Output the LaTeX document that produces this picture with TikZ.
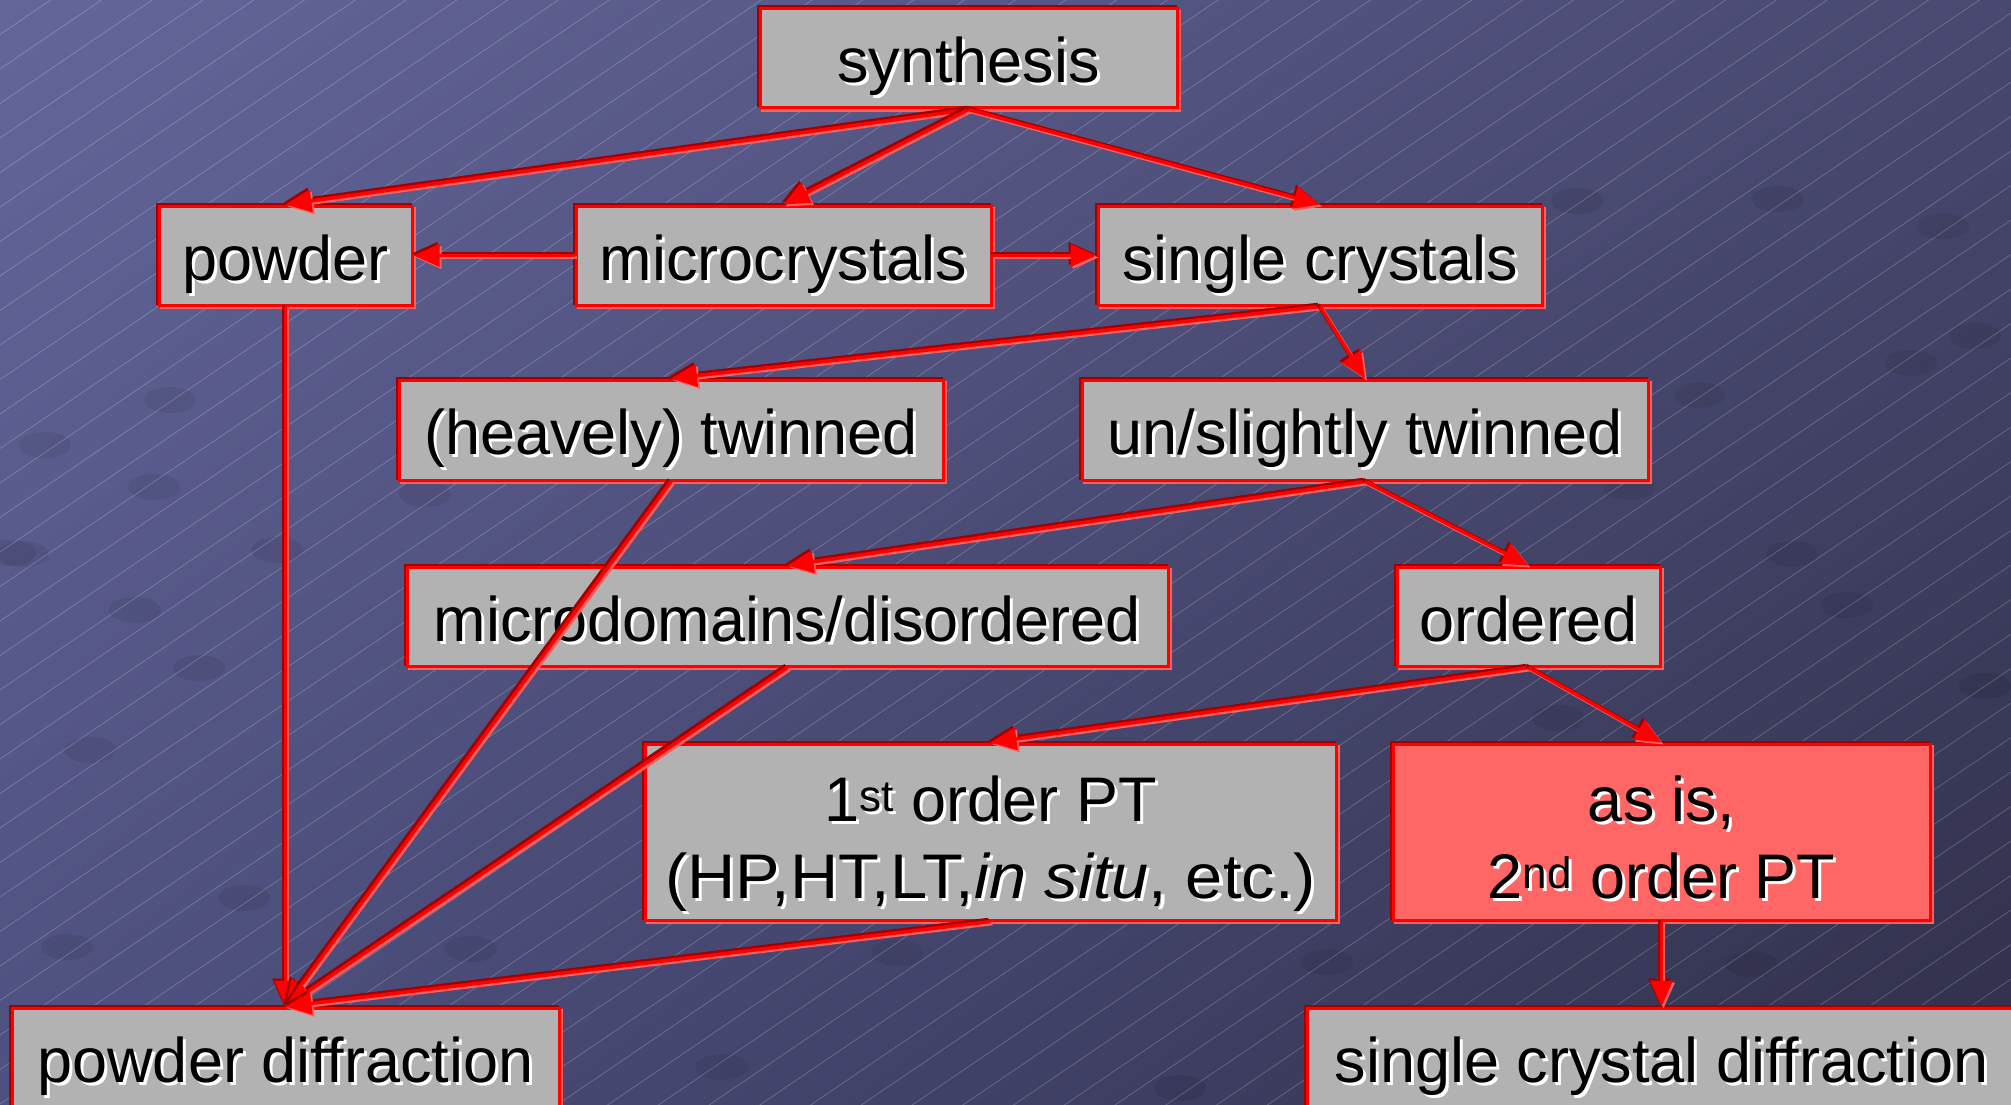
\documentclass[tikz,border=0pt]{standalone}
\usepackage{fontspec}
\usepackage{graphicx}
\setmainfont{Liberation Sans}
\usetikzlibrary{arrows.meta,shadings}
\definecolor{boxgray}{HTML}{B2B2B2}
\definecolor{boxred}{HTML}{FF0000}
\definecolor{shdark}{HTML}{A00000}
\definecolor{shlight}{HTML}{FF6060}
\definecolor{asisfill}{HTML}{FF6666}
\definecolor{bgA}{HTML}{64669A}
\definecolor{bgB}{HTML}{484870}
\definecolor{bgC}{HTML}{4E5080}
\definecolor{bgD}{HTML}{30304A}
\newcommand\ts[1]{\leavevmode\rlap{\kern3pt\raisebox{-3pt}{\textcolor{white}{#1}}}#1}
\newcommand\conn[2]{%
  \draw[con, draw=shdark, transform canvas={shift={(-2pt,2pt)}}] (#1) -- (#2);
  \draw[con, draw=shlight, transform canvas={shift={(2pt,-2pt)}}] (#1) -- (#2);
  \draw[con] (#1) -- (#2);}
\begin{document}
\begin{tikzpicture}[x=1pt,y=-1pt,
  box/.style={draw=boxred, line width=3pt, fill=boxgray, inner sep=0pt,
    minimum height=99pt, text=black, text height=50pt, text depth=1pt,
    font=\fontsize{63}{77}\selectfont,
    preaction={draw=shdark, line width=3pt, transform canvas={shift={(-2pt,2pt)}}},
    preaction={draw=shlight, line width=3pt, transform canvas={shift={(2.5pt,-2.5pt)}}}},
  twoline/.style={minimum height=176pt, text height=50pt, text depth=72pt},
  con/.style={draw=boxred, line width=3.5pt, -{Triangle[length=26pt,width=22pt]}},
  bgline/.style={white, opacity=0.2, line width=0.8pt},
  spot/.style={fill=black, opacity=0.07}]
\useasboundingbox (0,0) rectangle (2011,1105);
\shade[upper left=bgA, upper right=bgB, lower left=bgC, lower right=bgD] (0,0) rectangle (2011,1105);
\begin{scope}
  \clip (0,0) rectangle (2011,1105);
  \foreach \x/\y in {1778/199,1943/226,1577/201,1975/336,1911/363,1699/395,1792/554,1847/605,1985/686,
      1751/964,1327/962,898/953,722/1067,1180/1088,67/947,471/949,244/898,90/750,154/487,199/668,
      23/554,170/400,45/445,10/553,277/550,135/610,425/494,1558/718,1629/487}
    \fill[spot] (\x,\y) ellipse (26pt and 13pt);
  \foreach \c in {0,34.5,...,2500} \draw[bgline] (0,\c) -- (2011,\c-1367);
\end{scope}

\node[box, minimum width=417pt] (synth) at (968.5,58.5) {\ts{synthesis}};
\node[box, minimum width=253pt] (powder) at (285.5,255.5) {\ts{powder}};
\node[box, minimum width=415pt] (micro) at (783.5,255.5) {\ts{microcrystals}};
\node[box, minimum width=444pt] (single) at (1320,255.5) {\ts{single crystals}};
\node[box, minimum width=544pt, minimum height=100pt] (twin) at (671,430) {\ts{(heavely) twinned}};
\node[box, minimum width=566pt, minimum height=100pt] (untwin) at (1365,430) {\ts{un/slightly twinned}};
\node[box, minimum width=761pt] (microdom) at (787.5,616.5) {\ts{microdomains/disordered}};
\node[box, minimum width=263pt] (ordered) at (1528.5,616.5) {\ts{ordered}};
\node[box, twoline, minimum width=691pt] (first) at (990.5,832)
  {\begin{tabular}[t]{@{}c@{}}\ts{1\textsuperscript{st} order PT}\\
   \scalebox{1.06}[1]{\ts{(HP,HT,LT,\textit{in situ}, etc.)}}\end{tabular}};
\node[box, twoline, fill=asisfill, minimum width=537pt] (asis) at (1661.5,832)
  {\begin{tabular}[t]{@{}c@{}}\ts{as is,}\\\ts{2\textsuperscript{nd} order PT}\end{tabular}};
\node[box, minimum width=547pt] (pd) at (285.5,1057.5) {\ts{powder diffraction}};
\node[box, minimum width=708pt] (scd) at (1661.5,1057.5) {\ts{single crystal diffraction}};

\conn{synth.south}{powder.north}
\conn{synth.south}{micro.north}
\conn{synth.south}{single.north}
\conn{micro.west}{powder.east}
\conn{micro.east}{single.west}
\conn{powder.south}{pd.north}
\conn{single.south}{twin.north}
\conn{single.south}{untwin.north}
\conn{twin.south}{pd.north}
\conn{untwin.south}{microdom.north}
\conn{untwin.south}{ordered.north}
\conn{microdom.south}{pd.north}
\conn{ordered.south}{first.north}
\conn{ordered.south}{asis.north}
\conn{first.south}{pd.north}
\conn{asis.south}{asis.south |- scd.north}
\end{tikzpicture}
\end{document}
